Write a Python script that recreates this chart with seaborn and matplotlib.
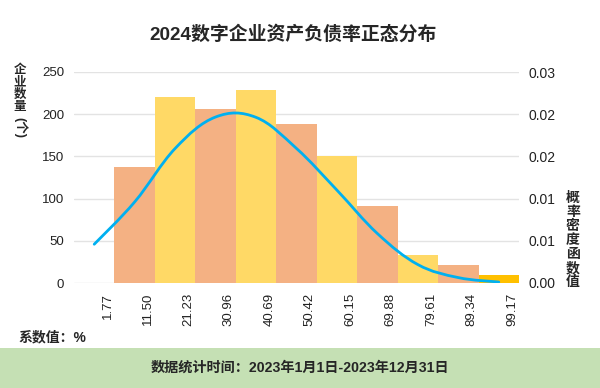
import numpy as np
import pandas as pd
import seaborn as sns
import matplotlib.pyplot as plt
from matplotlib.path import Path
from matplotlib.patches import PathPatch, Rectangle
from matplotlib.transforms import ScaledTranslation

# 数据
categorias = ['1.77', '11.50', '21.23', '30.96', '40.69', '50.42',
              '60.15', '69.88', '79.61', '89.34', '99.17']
qtd_empresas = [0, 137, 220, 206, 229, 188, 150, 91, 33, 21, 9]
densidade = [0.00551, 0.01153, 0.01913, 0.02360, 0.02355, 0.01913,
             0.01320, 0.00703, 0.00262, 0.00077, 0.00014]
cores = ['#F4B183', '#F4B183', '#FFD966', '#F4B183', '#FFD966', '#F4B183',
         '#FFD966', '#F4B183', '#FFD966', '#F4B183', '#FFC000']

sns.set_style('white')
plt.rcParams['font.family'] = ['Liberation Sans', 'Noto Sans CJK SC', 'DejaVu Sans']
plt.rcParams['axes.unicode_minus'] = False

fig = plt.figure(figsize=(6, 3.88), dpi=100)
ax = fig.add_axes([74/600, 1-283/388, 445/600, 211/388])

df = pd.DataFrame({'cat': categorias, 'n': qtd_empresas})
sns.barplot(data=df, x='cat', y='n', hue='cat', palette=cores, width=1,
            saturation=1, legend=False, edgecolor='none', ax=ax, zorder=2)

ax.set_ylim(0, 250)
ax.set_yticks(range(0, 251, 50))
ax.grid(axis='y', color='#E3E3E3', lw=1, zorder=0)
ax.set_axisbelow(True)
for s in ax.spines.values():
    s.set_visible(False)
ax.set_xlabel('')
ax.set_ylabel('')
ax.tick_params(axis='y', length=0, pad=7, labelsize=9.5, labelcolor='#222222')
ax.tick_params(axis='x', length=0, pad=7, labelsize=9.5, labelrotation=90, labelcolor='#222222')
desloca = ScaledTranslation(13.3/100, 0, fig.dpi_scale_trans)
for lb in ax.get_xticklabels():
    lb.set_transform(lb.get_transform() + desloca)

# eixo da densidade
ax2 = ax.twinx()
ax2.set_ylim(0, 0.03)
ax2.set_yticks(np.arange(0, 0.0301, 0.006))
ax2.set_yticklabels(['%.2f' % v for v in np.arange(0, 0.0301, 0.006)])
ax2.tick_params(axis='y', length=0, pad=7, labelsize=10, labelcolor='#222222')
for s in ax2.spines.values():
    s.set_visible(False)
ax2.grid(False)

# curva suave (bezier catmull-rom pelos pontos)
xs = np.arange(len(densidade), dtype=float)
ys = np.array(densidade)
pts = np.column_stack([xs, ys])
t = 0.18
verts = [pts[0]]
codes = [Path.MOVETO]
for i in range(len(pts) - 1):
    p0 = pts[i-1] if i > 0 else pts[i]
    p1 = pts[i]
    p2 = pts[i+1]
    p3 = pts[i+2] if i + 2 < len(pts) else pts[i+1]
    verts += [p1 + (p2 - p0) * t, p2 - (p3 - p1) * t, p2]
    codes += [Path.CURVE4] * 3
ax2.add_patch(PathPatch(Path(verts, codes), fill=False, ec='#00B0F0', lw=2,
                        capstyle='round', zorder=3))

# textos
fig.text(293/600, 1-34.5/388, '2024数字企业资产负债率正态分布', ha='center', va='center',
         fontsize=13.6, fontweight='bold')
fig.text(20/600, 1-64/388, '\n'.join('企业数量'), ha='center', va='top',
         fontsize=9, fontweight='bold', linespacing=1.05)
fig.text(20/600, 1-117/388, '(个)', ha='center', va='top', rotation=-90,
         fontsize=9, fontweight='bold')
fig.text(573/600, 1-191/388, '\n'.join('概率密度函数值'), ha='center', va='top',
         fontsize=10, fontweight='bold', linespacing=1.0)
fig.text(18/600, 1-337/388, '系数值：%', ha='left', va='center',
         fontsize=10, fontweight='bold')

fig.add_artist(Rectangle((0, 0), 1, 1-348/388, transform=fig.transFigure,
                         facecolor='#C5E0B4', edgecolor='none', zorder=0))
fig.text(300/600, 1-368/388, '数据统计时间：2023年1月1日-2023年12月31日', ha='center',
         va='center', fontsize=10.2, fontweight='bold')

fig.savefig('out.png', dpi=100)
